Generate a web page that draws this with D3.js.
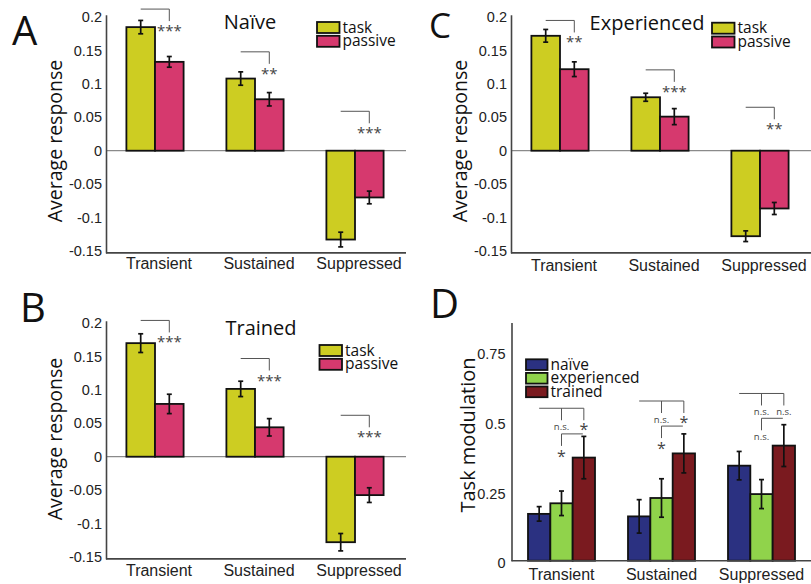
<!DOCTYPE html>
<html>
<head>
<meta charset="utf-8">
<script src="https://cdn.jsdelivr.net/npm/d3@7"></script>
<style>
  body { margin: 0; background: #fff; }
  svg { font-family: "Open Sans", sans-serif; }
  .tick text { fill: #222; }
</style>
</head>
<body>
<svg class="figure" width="811" height="584"></svg>
<script>
// Categories and series
const categories = ["Transient", "Sustained", "Suppressed"];
const responseSeries = ["task", "passive"];
const groupSeries = ["naïve", "experienced", "trained"];

// Panel A - naive
const naiveTask = [0.185, 0.108, -0.133];
const naiveTaskErr = [0.010, 0.010, 0.011];
const naivePassive = [0.133, 0.077, -0.070];
const naivePassiveErr = [0.008, 0.010, 0.0095];
const naiveSig = ["***", "**", "***"];
const naiveBracket = [0.212, 0.148, 0.059];

// Panel C - experienced
const expTask = [0.172, 0.080, -0.128];
const expTaskErr = [0.0095, 0.006, 0.008];
const expPassive = [0.122, 0.051, -0.0865];
const expPassiveErr = [0.011, 0.012, 0.009];
const expSig = ["**", "***", "**"];
const expBracket = [0.195, 0.121, 0.065];

// Panel B - trained
const trainedTask = [0.170, 0.1015, -0.128];
const trainedTaskErr = [0.014, 0.0115, 0.013];
const trainedPassive = [0.079, 0.044, -0.0575];
const trainedPassiveErr = [0.0145, 0.013, 0.011];
const trainedSig = ["***", "***", "***"];
const trainedBracket = [0.204, 0.147, 0.062];

// Panel D - task modulation
const modNaive = [0.168, 0.159, 0.341];
const modNaiveErr = [0.026, 0.060, 0.051];
const modExp = [0.206, 0.225, 0.239];
const modExpErr = [0.044, 0.069, 0.052];
const modTrained = [0.370, 0.385, 0.413];
const modTrainedErr = [0.076, 0.070, 0.075];
const modTopSig = [["n.s.", "*"], ["n.s.", "*"], ["n.s.", "n.s."]];
const modTopBracket = [0.547, 0.573, 0.600];
const modLowSig = ["*", "*", "n.s."];
const modLowBracket = [0.455, 0.483, 0.511];

const responseTicks = [0.2, 0.15, 0.1, 0.05, 0, -0.05, -0.1, -0.15];
const modTicks = [0.75, 0.5, 0.25, 0];

const colors = {
	task: "#cdcd22", passive: "#d6396e",
	"naïve": "#2b3181", experienced: "#90d34b", trained: "#7a1a1f"
};

var svg = d3.select(".figure");

function errorBar(g, cx, y1, y2) {
	g.append("line").attr("x1", cx).attr("x2", cx).attr("y1", y1).attr("y2", y2)
	 .attr("stroke", "#111").attr("stroke-width", 1.7);
	[y1, y2].forEach(y => {
		g.append("line").attr("x1", cx - 2.5).attr("x2", cx + 2.5).attr("y1", y).attr("y2", y)
		 .attr("stroke", "#111").attr("stroke-width", 1.7);
	});
}

function stars(g, x, y, label, size) {
	g.append("text")
	 .attr("x", x)
	 .attr("y", y)
	 .attr("text-anchor", "middle")
	 .attr("fill", "#444")
	 .style("font-size", size + "px")
	 .text(label);
}

function legend(g, x, y, names, boxW, boxH, step) {
	names.forEach((n, i) => {
		g.append("rect")
		 .attr("x", x).attr("y", y + i * step)
		 .attr("width", boxW).attr("height", boxH)
		 .attr("fill", colors[n]).attr("stroke", "#111").attr("stroke-width", 1.8);
		g.append("text")
		 .attr("x", x + boxW + 3)
		 .attr("y", y + i * step + boxH - 0.5)
		 .style("font-size", "15.5px")
		 .attr("fill", "#111")
		 .text(n);
	});
}

function plotResponse(p) {
	let g = svg.append("g");

	var yScale = d3.scaleLinear()
	               .domain([-0.153, 0.2035])
	               .range([p.zeroY + 0.153 * 668, p.zeroY - 0.2035 * 668]);
	var xScale = d3.scaleBand()
	               .domain(categories)
	               .range([p.axisX - 1, p.axisX + 299]);
	var sub = d3.scaleBand()
	            .domain(responseSeries)
	            .range([-28.6, 28.6]);

	let bottom = yScale(-0.153);

	// zero line
	g.append("line")
	 .attr("x1", p.axisX).attr("x2", p.axisX + 300)
	 .attr("y1", yScale(0)).attr("y2", yScale(0))
	 .attr("stroke", "#8a8a8a").attr("stroke-width", 1.2);

	let rows = [
		{ s: "task", v: p.task, e: p.taskErr },
		{ s: "passive", v: p.passive, e: p.passiveErr }
	];
	rows.forEach(r => {
		categories.forEach((c, i) => {
			let x0 = xScale(c) + xScale.bandwidth() / 2 + sub(r.s);
			let v = r.v[i];
			g.append("rect")
			 .attr("x", x0)
			 .attr("y", yScale(Math.max(0, v)))
			 .attr("width", sub.bandwidth())
			 .attr("height", Math.abs(yScale(v) - yScale(0)))
			 .attr("fill", colors[r.s])
			 .attr("stroke", "#111")
			 .attr("stroke-width", 1.8);
			errorBar(g, x0 + sub.bandwidth() / 2, yScale(v + r.e[i]), yScale(v - r.e[i]));
		});
	});

	// significance brackets
	categories.forEach((c, i) => {
		let cx = xScale(c) + xScale.bandwidth() / 2;
		let x1 = cx + sub("task") + sub.bandwidth() / 2;
		let x2 = cx + sub("passive") + sub.bandwidth() / 2;
		let yb = yScale(p.bracket[i]);
		g.append("path")
		 .attr("d", `M${x1},${yb}H${x2}V${yb + 12}`)
		 .attr("fill", "none").attr("stroke", "#555").attr("stroke-width", 1);
		stars(g, x2, yb + 27, p.sig[i], 15);
	});

	// axes
	g.append("g")
	 .attr("transform", `translate(${p.axisX},0)`)
	 .call(d3.axisLeft(yScale).tickValues(responseTicks).tickFormat(d => d)
	         .tickSize(0).tickPadding(4))
	 .call(a => a.select(".domain").attr("stroke", "#444").attr("stroke-width", 1.6))
	 .selectAll("text").style("font-size", "14.5px").attr("dy", "0.32em");

	g.append("line")
	 .attr("x1", p.axisX).attr("x2", p.axisX + 300)
	 .attr("y1", bottom).attr("y2", bottom)
	 .attr("stroke", "#444").attr("stroke-width", 1.6);

	g.append("g")
	 .attr("transform", `translate(4,${bottom})`)
	 .call(d3.axisBottom(xScale).tickSize(0).tickPadding(p.catPad))
	 .call(a => a.select(".domain").remove())
	 .selectAll("text").style("font-size", "16px");

	g.append("text")
	 .attr("transform", `translate(${p.axisX - 44},${p.labelY}) rotate(-90)`)
	 .attr("text-anchor", "middle")
	 .style("font-size", "19.5px")
	 .attr("fill", "#111")
	 .text("Average response");

	g.append("text")
	 .attr("x", p.titleX).attr("y", p.titleY)
	 .attr("text-anchor", "middle")
	 .style("font-size", "20px")
	 .attr("fill", "#111")
	 .text(p.title);

	legend(g, p.legendX, p.legendY, responseSeries, 22.5, 11, 13.8);

	g.append("text")
	 .attr("x", p.letterX).attr("y", p.letterY)
	 .style("font-size", p.letterSize + "px")
	 .attr("fill", "#111")
	 .text(p.letter);
}

function plotModulation(p) {
	let g = svg.append("g");

	var yScale = d3.scaleLinear()
	               .domain([0, 0.855])
	               .range([p.zeroY, p.zeroY - 0.855 * 278.7]);
	var xScale = d3.scaleBand()
	               .domain(categories)
	               .range([p.axisX, p.axisX + 300]);
	var sub = d3.scaleBand()
	            .domain(groupSeries)
	            .range([-33.5, 33.5]);

	let rows = [
		{ s: "naïve", v: modNaive, e: modNaiveErr },
		{ s: "experienced", v: modExp, e: modExpErr },
		{ s: "trained", v: modTrained, e: modTrainedErr }
	];
	rows.forEach(r => {
		categories.forEach((c, i) => {
			let x0 = xScale(c) + xScale.bandwidth() / 2 + sub(r.s);
			g.append("rect")
			 .attr("x", x0)
			 .attr("y", yScale(r.v[i]))
			 .attr("width", sub.bandwidth())
			 .attr("height", yScale(0) - yScale(r.v[i]))
			 .attr("fill", colors[r.s])
			 .attr("stroke", "#111")
			 .attr("stroke-width", 1.8);
			errorBar(g, x0 + sub.bandwidth() / 2, yScale(r.v[i] + r.e[i]), yScale(r.v[i] - r.e[i]));
		});
	});

	categories.forEach((c, i) => {
		let cx = xScale(c) + xScale.bandwidth() / 2;
		let xs = groupSeries.map(s => cx + sub(s) + sub.bandwidth() / 2);
		let yt = yScale(modTopBracket[i]);
		g.append("path")
		 .attr("d", `M${xs[0]},${yt}H${xs[2]}V${yt + 12}M${xs[1]},${yt}V${yt + 12}`)
		 .attr("fill", "none").attr("stroke", "#555").attr("stroke-width", 1);
		modTopSig[i].forEach((lab, k) => {
			if (lab == "*") stars(g, xs[k + 1], yt + 27, lab, 16);
			else stars(g, xs[k + 1], yt + 22, lab, 9.5);
		});
		let yl = yScale(modLowBracket[i]);
		g.append("path")
		 .attr("d", `M${xs[2] - 1},${yl}H${xs[1]}V${yl + 12}`)
		 .attr("fill", "none").attr("stroke", "#555").attr("stroke-width", 1);
		if (modLowSig[i] == "*") stars(g, xs[1], yl + 28, "*", 16);
		else stars(g, xs[1], yl + 22, modLowSig[i], 9.5);
	});

	g.append("g")
	 .attr("transform", `translate(${p.axisX},0)`)
	 .call(d3.axisLeft(yScale).tickValues(modTicks).tickFormat(d => d)
	         .tickSize(0).tickPadding(6))
	 .call(a => a.select(".domain").attr("stroke", "#444").attr("stroke-width", 1.6))
	 .selectAll("text").style("font-size", "14.5px").attr("dy", "0.5em");

	g.append("line")
	 .attr("x1", p.axisX).attr("x2", p.axisX + 300)
	 .attr("y1", yScale(0)).attr("y2", yScale(0))
	 .attr("stroke", "#444").attr("stroke-width", 1.6);

	g.append("g")
	 .attr("transform", `translate(0,${yScale(0)})`)
	 .call(d3.axisBottom(xScale).tickSize(0).tickPadding(8))
	 .call(a => a.select(".domain").remove())
	 .selectAll("text").style("font-size", "16px");

	g.append("text")
	 .attr("transform", `translate(${p.axisX - 37},${p.labelY}) rotate(-90)`)
	 .attr("text-anchor", "middle")
	 .style("font-size", "20px")
	 .attr("fill", "#111")
	 .text("Task modulation");

	legend(g, p.legendX, p.legendY, groupSeries, 21.5, 10.7, 13.6);

	g.append("text")
	 .attr("x", p.letterX).attr("y", p.letterY)
	 .style("font-size", "40px")
	 .attr("fill", "#111")
	 .text("D");
}

plotResponse({
	letter: "A", letterX: 12, letterY: 45, letterSize: 40,
	axisX: 106, zeroY: 150.7, labelY: 141, catPad: 5,
	title: "Naïve", titleX: 250, titleY: 28.5,
	legendX: 317, legendY: 22,
	task: naiveTask, taskErr: naiveTaskErr,
	passive: naivePassive, passiveErr: naivePassiveErr,
	sig: naiveSig, bracket: naiveBracket
});

plotResponse({
	letter: "C", letterX: 429, letterY: 38, letterSize: 35,
	axisX: 511, zeroY: 150.7, labelY: 141, catPad: 7,
	title: "Experienced", titleX: 647, titleY: 30,
	legendX: 712, legendY: 22.7,
	task: expTask, taskErr: expTaskErr,
	passive: expPassive, passiveErr: expPassiveErr,
	sig: expSig, bracket: expBracket
});

plotResponse({
	letter: "B", letterX: 20, letterY: 322, letterSize: 40,
	axisX: 106, zeroY: 456.7, labelY: 439, catPad: 6,
	title: "Trained", titleX: 261, titleY: 334.5,
	legendX: 319.5, legendY: 345,
	task: trainedTask, taskErr: trainedTaskErr,
	passive: trainedPassive, passiveErr: trainedPassiveErr,
	sig: trainedSig, bracket: trainedBracket
});

plotModulation({
	letterX: 430, letterY: 318,
	axisX: 511.5, zeroY: 560.7, labelY: 435,
	legendX: 526, legendY: 359.3
});
</script>
</body>
</html>
